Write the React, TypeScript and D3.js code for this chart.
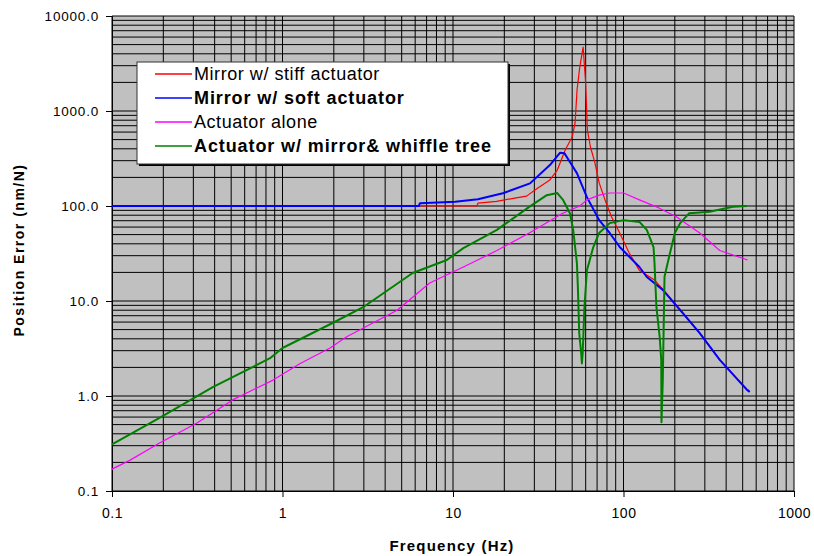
import * as d3 from 'd3';
import React, { useRef, useEffect } from 'react';

// frequency (Hz) / position error (nm/N) pairs
const stiffFreq = [0.1, 1, 6.4, 13.8, 14, 18, 23, 27, 31, 37, 40.9, 45.5, 50, 52, 53.4, 55.4, 57.6, 58, 59.8, 60.6, 61.4, 64, 68, 72, 79, 85, 95, 108, 124, 152, 170, 222, 280, 367, 530, 550];
const stiffVals = [100, 100, 100, 100, 107, 112, 121, 127, 152, 188, 239, 388, 532, 748, 1664, 2900, 4390, 4700, 2120, 1213, 631, 418, 284, 175, 108, 77, 52, 32, 21, 16.6, 13.3, 7.6, 4.6, 2.4, 1.18, 1.12];

const softFreq = [0.1, 1, 6.3, 6.4, 10.3, 14, 19.6, 28.3, 37, 42.5, 45, 48.5, 53.3, 61, 72, 83, 95, 124, 137, 170, 222, 280, 367, 530, 550];
const softVals = [100, 100, 100, 107, 111, 118, 136, 173, 270, 364, 360, 290, 222, 124, 71, 52, 37, 22.8, 17.9, 13.1, 7.5, 4.6, 2.4, 1.16, 1.1];

const aloneFreq = [0.1, 0.127, 0.19, 0.315, 0.51, 0.88, 1.27, 1.9, 2.38, 4.7, 7.3, 11.5, 18.1, 28, 44, 55.4, 61, 72, 83, 100, 124, 156, 204, 280, 367, 535];
const aloneVals = [0.17, 0.21, 0.32, 0.52, 0.91, 1.47, 2.2, 3.2, 4.2, 8, 15.5, 22.8, 34, 52, 84, 100, 116, 130, 137, 137, 116, 98, 77, 52, 34, 27];

const whiffleFreq = [0.1, 0.19, 0.39, 0.845, 1, 1.98, 2.97, 5.8, 9.2, 11.5, 18.1, 28, 35.5, 40.9, 44.3, 48.5, 50.7, 53.3, 54, 55, 56.5, 57, 57.6, 59, 61, 66.5, 72, 83, 100, 124, 137, 150, 152, 156, 163, 166.5, 167, 170, 174, 185, 200, 215, 243, 320, 438, 530];
const whiffleVals = [0.31, 0.59, 1.24, 2.5, 3.2, 5.9, 8.6, 19.7, 27, 36, 56, 98, 130, 137, 115, 84, 56, 25, 14, 4.6, 2.8, 2.2, 2.8, 8.6, 21, 37, 52, 66, 71, 68, 56, 37, 25, 8.6, 4.2, 2.4, 0.53, 1.47, 18, 29, 52, 66, 84, 87, 98, 100];

const seriesNames = ['Mirror w/ stiff actuator', 'Mirror w/ soft actuator', 'Actuator alone', 'Actuator w/ mirror& whiffle tree'];
const seriesColors = ['#ff0000', '#0000ff', '#ff00ff', '#008000'];
const seriesWidths = [1.2, 2, 1.2, 2];
const seriesBold = [false, true, false, true];

const xTicks = [0.1, 1, 10, 100, 1000];
const yTicks = [0.1, 1, 10, 100, 1000, 10000];

const FONT = 'Arial, "Liberation Sans", sans-serif';

function App() {
    const ref = useRef<SVGSVGElement>(null);
    const width = 814;
    const height = 556;

    useEffect(() => {
        const svg = d3.select(ref.current);
        svg.selectAll('*').remove();

        const left = 112, right = 794, top = 16, bottom = 491;

        const x = d3.scaleLog().domain([0.1, 1000]).range([left, right]);
        const y = d3.scaleLog().domain([0.1, 10000]).range([bottom, top]);

        svg.append('rect')
            .attr('width', width).attr('height', height)
            .attr('fill', 'white');

        svg.append('rect')
            .attr('x', left).attr('y', top)
            .attr('width', right - left).attr('height', bottom - top)
            .attr('fill', '#c0c0c0');

        // minor + major grid lines at 1..9 x each decade
        const xGrid: number[] = [];
        for (let e = -1; e < 3; e++) for (let m = 1; m < 10; m++) xGrid.push(m * Math.pow(10, e));
        xGrid.push(1000);
        const yGrid: number[] = [];
        for (let e = -1; e < 4; e++) for (let m = 1; m < 10; m++) yGrid.push(m * Math.pow(10, e));
        yGrid.push(10000);

        const grid = svg.append('g').attr('stroke', '#000').attr('stroke-width', 1);
        grid.selectAll('line.vx')
            .data(xGrid)
            .enter().append('line')
            .attr('class', 'vx')
            .attr('x1', d => x(d)).attr('x2', d => x(d))
            .attr('y1', top).attr('y2', bottom);
        grid.selectAll('line.hy')
            .data(yGrid)
            .enter().append('line')
            .attr('class', 'hy')
            .attr('x1', left).attr('x2', right)
            .attr('y1', d => y(d)).attr('y2', d => y(d));

        // axes
        const xAxis = svg.append('g')
            .attr('transform', 'translate(0,' + bottom + ')')
            .call(d3.axisBottom(x).tickValues(xTicks).tickSize(6).tickPadding(11).tickFormat(d => String(d)));
        xAxis.select('.domain').attr('stroke', '#000');
        xAxis.selectAll('text')
            .style('font-family', FONT)
            .style('font-size', '14px')
            .style('letter-spacing', '0.5px')
            .attr('fill', '#000');

        const yAxis = svg.append('g')
            .attr('transform', 'translate(' + left + ',0)')
            .call(d3.axisLeft(y).tickValues(yTicks).tickSize(6).tickPadding(7).tickFormat(d => (+d).toFixed(1)));
        yAxis.select('.domain').attr('stroke', '#000');
        yAxis.selectAll('text')
            .style('font-family', FONT)
            .style('font-size', '13.5px')
            .style('letter-spacing', '0.8px')
            .attr('fill', '#000');

        // series
        const freqs = [stiffFreq, softFreq, aloneFreq, whiffleFreq];
        const vals = [stiffVals, softVals, aloneVals, whiffleVals];
        const line = d3.line<[number, number]>()
            .x(d => x(d[0]))
            .y(d => y(d[1]));

        freqs.forEach((fs, i) => {
            const pts: [number, number][] = fs.map((f, j) => [f, vals[i][j]]);
            svg.append('path')
                .datum(pts)
                .attr('fill', 'none')
                .attr('stroke', seriesColors[i])
                .attr('stroke-width', seriesWidths[i])
                .attr('stroke-linejoin', 'round')
                .attr('d', line);
        });

        // legend
        const lg = svg.append('g').attr('transform', 'translate(137,62)');
        lg.append('rect')
            .attr('x', 2).attr('y', 2)
            .attr('width', 371).attr('height', 102)
            .attr('fill', '#000');
        lg.append('rect')
            .attr('width', 371).attr('height', 102)
            .attr('fill', 'white')
            .attr('stroke', '#333')
            .attr('stroke-width', 1);
        seriesNames.forEach((name, i) => {
            const cy = 12 + i * 24;
            lg.append('line')
                .attr('x1', 18).attr('x2', 55)
                .attr('y1', cy).attr('y2', cy)
                .attr('stroke', seriesColors[i])
                .attr('stroke-width', 1.5);
            lg.append('text')
                .attr('x', 57).attr('y', cy + 6)
                .style('font-family', FONT)
                .style('font-size', '18px')
                .style('font-weight', seriesBold[i] ? 'bold' : 'normal')
                .style('letter-spacing', seriesBold[i] ? '0.9px' : '0.55px')
                .text(name);
        });

        // axis titles
        svg.append('text')
            .attr('x', 452)
            .attr('y', 551)
            .style('text-anchor', 'middle')
            .style('font-family', FONT)
            .style('font-size', '15px')
            .style('font-weight', 'bold')
            .style('letter-spacing', '1.2px')
            .text('Frequency (Hz)');

        svg.append('text')
            .attr('transform', 'translate(24,250) rotate(-90)')
            .style('text-anchor', 'middle')
            .style('font-family', FONT)
            .style('font-size', '14px')
            .style('font-weight', 'bold')
            .style('letter-spacing', '1.5px')
            .text('Position Error (nm/N)');
    }, []);

    return (
        <svg ref={ref} width={width} height={height} style={{ position: 'absolute', left: 0, top: 0 }}>
        </svg>
    );
}

export default App;
